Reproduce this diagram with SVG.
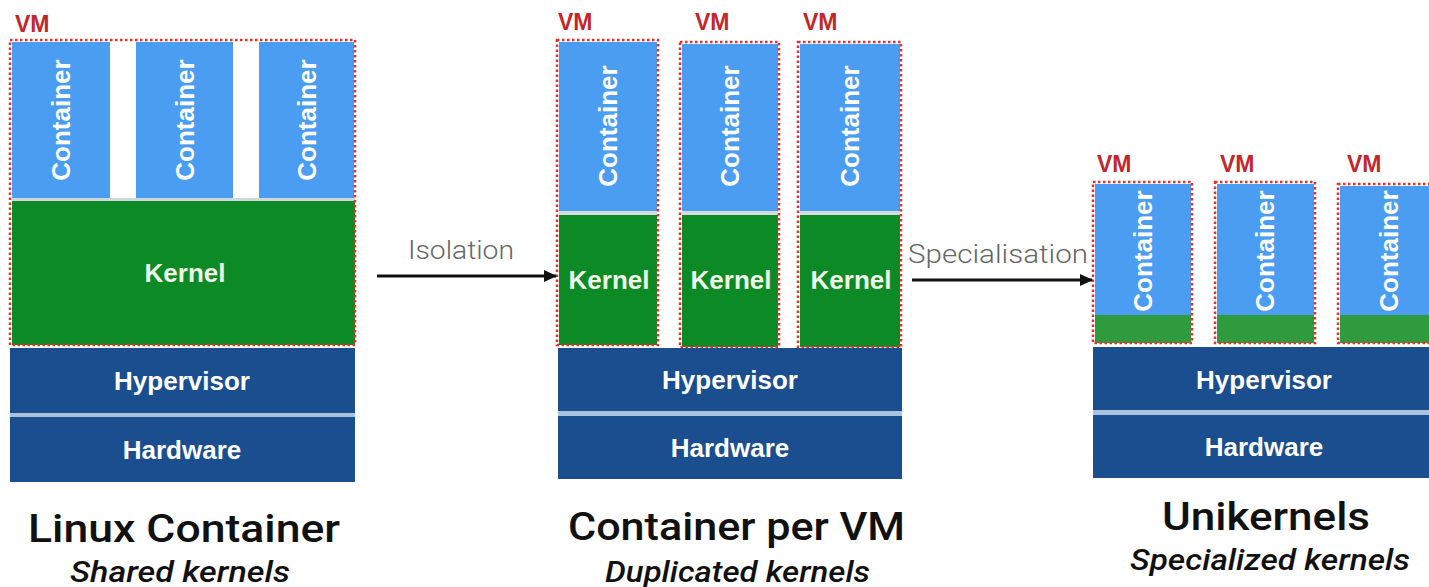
<svg xmlns="http://www.w3.org/2000/svg" width="1429" height="587" viewBox="0 0 1429 587">
<defs>
<style>
.cont{fill:#4a9df0}
.kern{fill:#0c8a26}
.kern3{fill:#2e9b3f}
.hyp{fill:#1a4e8e}
.sep{fill:#a9c2de}
.vm{fill:none;stroke:#e3302b;stroke-width:2.5;stroke-dasharray:2.5 2.5}
.vml{font-family:"Liberation Sans",Arial,sans-serif;font-weight:bold;font-size:23px;fill:#c4262b}
.wt{font-family:"Liberation Sans",Arial,sans-serif;font-weight:bold;font-size:26px;fill:#ffffff;text-anchor:middle}
.kt{fill:#eef8e8}
.title{font-family:Roboto,"Liberation Sans",sans-serif;font-weight:500;font-size:39px;fill:#111;text-anchor:middle}
.sub{font-family:Roboto,"Liberation Sans",sans-serif;font-weight:500;font-style:italic;font-size:30px;fill:#111;text-anchor:middle}
.arrl{font-family:Roboto,"Liberation Sans",sans-serif;font-weight:300;font-size:26px;fill:#666;text-anchor:middle}
.conn{stroke:#111;stroke-width:3;fill:none}
</style>
<marker id="ah" markerWidth="13" markerHeight="12" refX="12" refY="6" orient="auto" markerUnits="userSpaceOnUse">
<path d="M0,0 L13,6 L0,12 z" fill="#111"/>
</marker>
</defs>
<rect width="1429" height="587" fill="#ffffff"/>

<!-- Panel 1: Linux Container -->
<g id="linux-container">
<rect class="cont" x="12" y="42" width="98" height="156"/>
<rect class="cont" x="136" y="42" width="97" height="156"/>
<rect class="cont" x="259" y="42" width="95" height="156"/>
<rect x="12" y="198" width="343" height="3" fill="#cfd6dc"/>
<rect class="kern" x="12" y="201" width="343" height="144"/>
<rect class="vm" x="10" y="40" width="345" height="305"/>
<text class="vml" x="15" y="32">VM</text>
<text class="wt" x="61" y="120" dy="9" transform="rotate(-90 61 120)">Container</text>
<text class="wt" x="184.5" y="120" dy="9" transform="rotate(-90 184.5 120)">Container</text>
<text class="wt" x="306.5" y="120" dy="9" transform="rotate(-90 306.5 120)">Container</text>
<text class="wt kt" x="185" y="282">Kernel</text>
<rect class="hyp" x="10" y="348" width="345" height="65"/>
<rect class="sep" x="10" y="413" width="345" height="4"/>
<rect class="hyp" x="10" y="417" width="345" height="65"/>
<text class="wt" x="182" y="390">Hypervisor</text>
<text class="wt" x="182" y="459">Hardware</text>
<text class="title" x="184" y="542" textLength="312" lengthAdjust="spacingAndGlyphs">Linux Container</text>
<text class="sub" x="180" y="582" textLength="220" lengthAdjust="spacingAndGlyphs">Shared kernels</text>
</g>

<!-- Panel 2: Container per VM -->
<g id="container-per-vm">
<rect class="cont" x="559" y="42" width="98" height="169"/>
<rect x="559" y="211" width="98" height="4" fill="#d5dde3"/>
<rect class="kern" x="559" y="215" width="98" height="130"/>
<rect class="vm" x="557" y="40" width="101" height="305"/>
<text class="vml" x="558" y="30">VM</text>
<text class="wt" x="607.5" y="126" dy="9" transform="rotate(-90 607.5 126)">Container</text>
<text class="wt kt" x="609" y="289">Kernel</text>

<rect class="cont" x="682" y="44" width="96" height="167"/>
<rect x="682" y="211" width="96" height="4" fill="#d5dde3"/>
<rect class="kern" x="682" y="215" width="96" height="132"/>
<rect class="vm" x="680" y="42" width="99" height="305"/>
<text class="vml" x="695" y="30">VM</text>
<text class="wt" x="729.5" y="126" dy="9" transform="rotate(-90 729.5 126)">Container</text>
<text class="wt kt" x="731" y="289">Kernel</text>

<rect class="cont" x="800" y="44" width="100" height="167"/>
<rect x="800" y="211" width="100" height="4" fill="#d5dde3"/>
<rect class="kern" x="800" y="215" width="100" height="132"/>
<rect class="vm" x="798" y="42" width="103" height="305"/>
<text class="vml" x="803" y="30">VM</text>
<text class="wt" x="849.5" y="126" dy="9" transform="rotate(-90 849.5 126)">Container</text>
<text class="wt kt" x="851" y="289">Kernel</text>

<rect class="hyp" x="558" y="348" width="344" height="63"/>
<rect class="sep" x="558" y="411" width="344" height="5"/>
<rect class="hyp" x="558" y="416" width="344" height="63"/>
<text class="wt" x="730" y="389">Hypervisor</text>
<text class="wt" x="730" y="457">Hardware</text>
<text class="title" x="736.5" y="540" textLength="337" lengthAdjust="spacingAndGlyphs">Container per VM</text>
<text class="sub" x="737.5" y="582" textLength="265" lengthAdjust="spacingAndGlyphs">Duplicated kernels</text>
</g>

<!-- Panel 3: Unikernels -->
<g id="unikernels">
<rect class="cont" x="1095" y="184" width="96" height="131"/>
<rect class="kern3" x="1095" y="315" width="96" height="28"/>
<rect class="vm" x="1093" y="182" width="99" height="161"/>
<text class="vml" x="1097" y="172">VM</text>
<text class="wt" x="1142.5" y="251" dy="9" transform="rotate(-90 1142.5 251)">Container</text>

<rect class="cont" x="1217" y="184" width="97" height="131"/>
<rect class="kern3" x="1217" y="315" width="97" height="28"/>
<rect class="vm" x="1215" y="182" width="100" height="161"/>
<text class="vml" x="1220" y="172">VM</text>
<text class="wt" x="1265" y="251" dy="9" transform="rotate(-90 1265 251)">Container</text>

<rect class="cont" x="1340" y="186" width="100" height="129"/>
<rect class="kern3" x="1340" y="315" width="100" height="28"/>
<rect class="vm" x="1338" y="184" width="104" height="159"/>
<text class="vml" x="1347" y="172">VM</text>
<text class="wt" x="1389" y="251" dy="9" transform="rotate(-90 1389 251)">Container</text>

<rect class="hyp" x="1093" y="347" width="340" height="63"/>
<rect class="sep" x="1093" y="410" width="340" height="5"/>
<rect class="hyp" x="1093" y="415" width="340" height="63"/>
<text class="wt" x="1264" y="389">Hypervisor</text>
<text class="wt" x="1264" y="456">Hardware</text>
<text class="title" x="1266" y="530" textLength="208" lengthAdjust="spacingAndGlyphs">Unikernels</text>
<text class="sub" x="1270" y="570" textLength="280" lengthAdjust="spacingAndGlyphs">Specialized kernels</text>
</g>

<!-- Connectors -->
<g id="connectors">
<g id="isolation">
<line class="conn" x1="377" y1="276" x2="556" y2="276" marker-end="url(#ah)"/>
<text class="arrl" x="461" y="259" textLength="106" lengthAdjust="spacingAndGlyphs">Isolation</text>
</g>
<g id="specialisation">
<line class="conn" x1="912" y1="280" x2="1092" y2="280" marker-end="url(#ah)"/>
<text class="arrl" x="998" y="263" textLength="180" lengthAdjust="spacingAndGlyphs">Specialisation</text>
</g>
</g>
</svg>
